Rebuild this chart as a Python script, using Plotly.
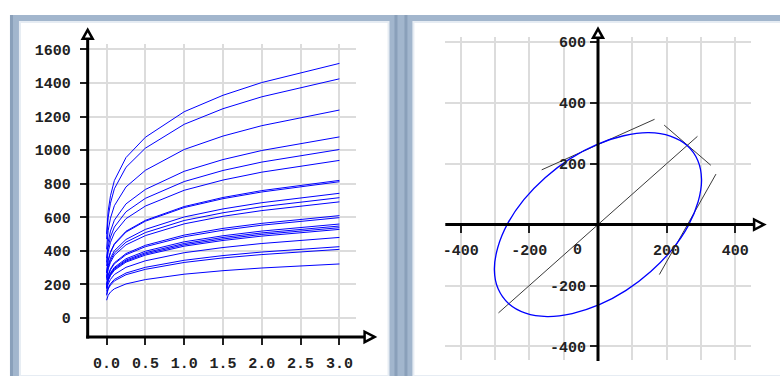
import plotly.graph_objects as go

W, H = 780, 376

# left chart: sampled x positions and the family of curves
curve_x = [0, 0.02, 0.05, 0.1, 0.25, 0.5, 1.0, 1.5, 2.0, 3.0]
curves = [
    [501, 637, 728, 819, 956, 1077, 1229, 1327, 1403, 1517],
    [470, 599, 684, 770, 898, 1012, 1154, 1247, 1318, 1425],
    [409, 520, 595, 669, 781, 880, 1004, 1084, 1146, 1239],
    [356, 453, 518, 583, 680, 766, 874, 944, 998, 1079],
    [331, 422, 482, 542, 633, 713, 813, 879, 929, 1004],
    [310, 394, 451, 507, 592, 667, 761, 822, 869, 939],
    [271, 344, 394, 443, 517, 582, 664, 718, 759, 820],
    [268, 341, 390, 438, 512, 577, 658, 711, 751, 812],
    [245, 312, 357, 401, 468, 528, 602, 650, 687, 743],
    [237, 301, 344, 387, 452, 509, 581, 627, 663, 717],
    [228, 291, 332, 374, 436, 491, 561, 606, 640, 692],
    [201, 256, 293, 329, 384, 433, 494, 534, 564, 610],
    [197, 251, 287, 323, 377, 425, 484, 523, 553, 598],
    [185, 235, 269, 302, 353, 398, 454, 490, 518, 560],
    [181, 230, 263, 296, 345, 389, 444, 480, 507, 548],
    [178, 226, 258, 291, 339, 382, 436, 471, 498, 538],
    [174, 222, 253, 285, 333, 375, 428, 462, 488, 528],
    [158, 202, 230, 259, 302, 341, 389, 420, 444, 480],
    [140, 179, 204, 230, 268, 302, 344, 372, 393, 425],
    [135, 172, 196, 221, 258, 290, 331, 358, 378, 409],
    [106, 135, 155, 174, 203, 229, 261, 282, 298, 322],
]
left_xticks = [0, 0.5, 1.0, 1.5, 2.0, 2.5, 3.0]
left_yticks = [0, 200, 400, 600, 800, 1000, 1200, 1400, 1600]

# right chart: ellipse outline, its main diagonal and three tangents
ell_x = [260, 211, 148, 75, -4, -82, -154, -216, -263, -292, -302, -291,
         -260, -211, -148, -75, 4, 82, 154, 216, 263, 292, 302, 291, 260]
ell_y = [260, 291, 302, 292, 263, 216, 154, 82, 4, -75, -148, -211,
         -260, -291, -302, -292, -263, -216, -154, -82, -4, 75, 148, 211, 260]
diag_x = [-290, 290]
diag_y = [-290, 290]
tan1_x = [-164, 165]
tan1_y = [180, 346]
tan2_x = [193, 329]
tan2_y = [327, 195]
tan3_x = [179, 344]
tan3_y = [-164, 166]
right_xticks = [-400, -200, 200, 400]
right_yticks = [-400, -200, 200, 400, 600]


def fx(p):
    return p / W


def fy(p):
    return 1 - p / H


tick_font = dict(family="Liberation Mono", size=15, color="#222222", weight="bold")
grid = "#dcdcdc"

fig = go.Figure()

for c in curves:
    fig.add_trace(go.Scatter(x=curve_x, y=c, mode="lines",
                             line=dict(color="#0000ff", width=1),
                             xaxis="x", yaxis="y", hoverinfo="skip"))

for sx, sy in [(diag_x, diag_y), (tan1_x, tan1_y), (tan2_x, tan2_y), (tan3_x, tan3_y)]:
    fig.add_trace(go.Scatter(x=sx, y=sy, mode="lines",
                             line=dict(color="#3a3a3a", width=1),
                             xaxis="x2", yaxis="y2", hoverinfo="skip"))

fig.add_trace(go.Scatter(x=ell_x, y=ell_y, mode="lines",
                         line=dict(color="#0000ff", width=1.3, shape="spline", smoothing=1.0),
                         xaxis="x2", yaxis="y2", hoverinfo="skip"))

# frame: blue-grey window border with two white panels
shapes = [
    dict(type="rect", xref="paper", yref="paper", x0=fx(7), x1=1, y0=0, y1=fy(13),
         fillcolor="#a2b6cd", line_width=0, layer="below"),
    dict(type="rect", xref="paper", yref="paper", x0=fx(7), x1=fx(10), y0=0, y1=fy(13),
         fillcolor="#8aa0ba", line_width=0, layer="below"),
    dict(type="rect", xref="paper", yref="paper", x0=fx(393), x1=fx(396), y0=0, y1=fy(13),
         fillcolor="#8aa0ba", line_width=0, layer="below"),
    dict(type="rect", xref="paper", yref="paper", x0=fx(403), x1=fx(406), y0=0, y1=fy(13),
         fillcolor="#8aa0ba", line_width=0, layer="below"),
    dict(type="rect", xref="paper", yref="paper", x0=fx(17), x1=fx(387), y0=0, y1=fy(20),
         fillcolor="#ffffff", line=dict(color="#e6ecf3", width=2), layer="below"),
    dict(type="rect", xref="paper", yref="paper", x0=fx(412), x1=1.01, y0=0, y1=fy(20),
         fillcolor="#ffffff", line=dict(color="#e6ecf3", width=2), layer="below"),
]


def axis_line(x0, y0, x1, y1):
    return dict(type="line", xref="paper", yref="paper", x0=fx(x0), y0=fy(y0),
                x1=fx(x1), y1=fy(y1), line=dict(color="black", width=3), layer="above")


def arrow(pts):
    path = "M " + " L ".join(f"{fx(a):.5f},{fy(b):.5f}" for a, b in pts) + " Z"
    return dict(type="path", xref="paper", yref="paper", path=path,
                fillcolor="white", line=dict(color="black", width=2.5), layer="above")


shapes += [
    axis_line(85, 338.2, 85, 37),
    axis_line(83.5, 336.7, 363, 336.7),
    arrow([(85, 28), (80, 37), (90, 37)]),
    arrow([(373, 336.7), (363, 331.5), (363, 342)]),
    axis_line(597.3, 361, 597.3, 36),
    axis_line(444, 223.8, 754, 223.8),
    arrow([(597.3, 27), (592.3, 36), (602.3, 36)]),
    arrow([(764, 223.8), (754, 218.6), (754, 229)]),
]

fig.update_layout(
    width=W, height=H,
    margin=dict(l=0, r=0, t=0, b=0),
    paper_bgcolor="white",
    plot_bgcolor="rgba(0,0,0,0)",
    showlegend=False,
    shapes=shapes,
    xaxis=dict(domain=[fx(85), fx(354)], range=[-0.2439, 3.209], anchor="y",
               tickvals=left_xticks, ticktext=[f"{v:.1f}" for v in left_xticks],
               showgrid=True, gridcolor=grid, gridwidth=2, zeroline=False,
               showline=False, ticks="outside", ticklen=7, tickwidth=2, tickcolor="#222",
               tickfont=tick_font, ticklabelstandoff=5),
    yaxis=dict(domain=[fy(336.7), fy(42)], range=[-112.6, 1633.8], anchor="x",
               tickvals=left_yticks, showgrid=True, gridcolor=grid, gridwidth=2,
               zeroline=False, showline=False, ticks="outside", ticklen=7, tickwidth=2,
               tickcolor="#222", tickfont=tick_font, ticklabelstandoff=6),
    xaxis2=dict(domain=[fx(444), fx(750.5)], range=[-445, 445], anchor="free",
                position=fy(223.8), tickvals=right_xticks,
                ticktext=[str(v) for v in right_xticks],
                showgrid=True, gridcolor=grid, gridwidth=2, zeroline=False,
                minor=dict(dtick=100, tick0=0, showgrid=True, gridcolor=grid, gridwidth=2),
                showline=False, ticks="outside", ticklen=7, tickwidth=2, tickcolor="#222",
                tickfont=tick_font, ticklabelstandoff=4),
    yaxis2=dict(domain=[fy(360), fy(35)], range=[-445, 617], anchor="free",
                position=fx(597.3), tickvals=right_yticks,
                ticktext=[str(v) for v in right_yticks],
                showgrid=True, gridcolor=grid, gridwidth=2, zeroline=False,
                showline=False, ticks="outside", ticklen=8, tickwidth=2, tickcolor="#222",
                tickfont=tick_font, ticklabelstandoff=1),
    annotations=[dict(text="0", xref="x2", yref="y2", x=0, y=0, xshift=-20, yshift=-26,
                      showarrow=False, font=tick_font)],
)

# the page's default body margin would push the figure off its 780x376 window
fig.write_html("out.html", config={"displayModeBar": False},
               post_script="document.body.style.margin='0';")
